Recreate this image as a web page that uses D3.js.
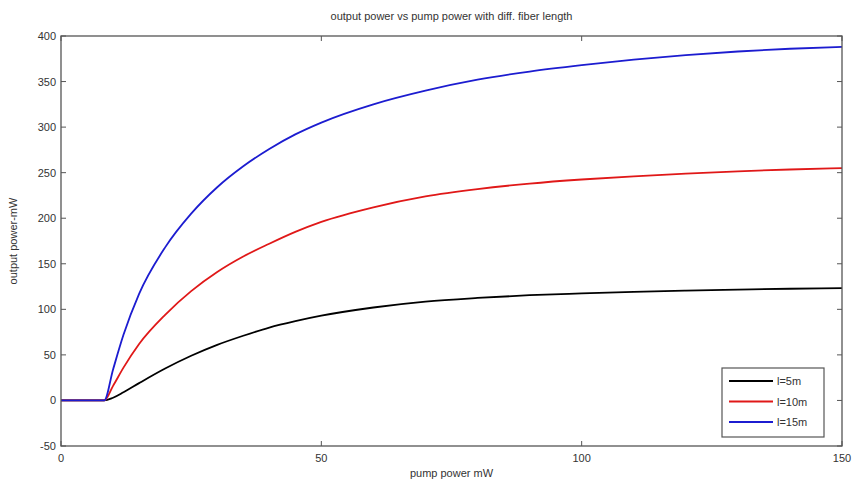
<!DOCTYPE html>
<html><head><meta charset="utf-8">
<script src="https://cdn.jsdelivr.net/npm/d3@7"></script>
<style>
body{margin:0;background:#fff;}
text{font-family:"Liberation Sans",Arial,sans-serif;fill:#333;}
</style></head>
<body><svg id="c" width="857" height="487"></svg>
<script>
const pump = [0, 8.3, 10, 12, 15, 20, 25, 30, 35, 40, 45, 50, 60, 70, 80, 90, 100, 110, 120, 130, 140, 150];
const out5m  = [0, 0, 3, 9, 19, 35, 49, 61, 71, 80, 87, 93, 102, 108.5, 112.5, 115.5, 117.5, 119.2, 120.6, 121.7, 122.6, 123.3];
const out10m = [0, 0, 16, 36, 62, 94, 120, 141, 158, 172, 185, 196, 212, 224, 232, 238, 242.5, 246, 249, 251.5, 253.5, 255];
const out15m = [0, 0, 34, 72, 117, 168, 205, 234, 257, 276, 292, 305, 325, 340, 352, 361, 368, 374, 379, 383, 386, 388];
const seriesNames = ["l=5m", "l=10m", "l=15m"];
const seriesColors = ["#000000", "#e01818", "#1c1cd0"];
const xTicks = [0, 50, 100, 150];
const yTicks = [-50, 0, 50, 100, 150, 200, 250, 300, 350, 400];
const titleText = "output power vs pump power with diff. fiber length";
const xLabel = "pump power mW";
const yLabel = "output power-mW";

const svg = d3.select("#c");
const L = 61, R = 842, T = 36, B = 446;
const x = d3.scaleLinear().domain([0, 150]).range([L, R]);
const y = d3.scaleLinear().domain([-50, 400]).range([B, T]);

const axColor = "#555";
const tl = 5;
const g = svg.append("g");
g.selectAll(".xtb").data(xTicks).join("line").attr("class","xtb")
  .attr("x1", d => x(d)).attr("x2", d => x(d)).attr("y1", B).attr("y2", B - tl)
  .attr("stroke", axColor);
g.selectAll(".xtt").data(xTicks).join("line").attr("class","xtt")
  .attr("x1", d => x(d)).attr("x2", d => x(d)).attr("y1", T).attr("y2", T + tl)
  .attr("stroke", axColor);
g.selectAll(".ytl").data(yTicks).join("line").attr("class","ytl")
  .attr("x1", L).attr("x2", L + tl).attr("y1", d => y(d)).attr("y2", d => y(d))
  .attr("stroke", axColor);
g.selectAll(".ytr").data(yTicks).join("line").attr("class","ytr")
  .attr("x1", R).attr("x2", R - tl).attr("y1", d => y(d)).attr("y2", d => y(d))
  .attr("stroke", axColor);

svg.selectAll(".xl").data(xTicks).join("text").attr("class","xl")
  .attr("x", d => x(d)).attr("y", B + 16).attr("text-anchor", "middle")
  .attr("font-size", 11).text(d => d);
svg.selectAll(".yl").data(yTicks).join("text").attr("class","yl")
  .attr("x", L - 5).attr("y", d => y(d) + 4).attr("text-anchor", "end")
  .attr("font-size", 11).text(d => d);

const sets = [out5m, out10m, out15m];
const line = d3.line().x((d, i) => x(pump[i])).y(d => y(d)).curve(d3.curveMonotoneX);
sets.forEach((s, k) => {
  svg.append("path").datum(s).attr("d", line).attr("fill", "none")
    .attr("stroke", seriesColors[k]).attr("stroke-width", 1.8);
});

svg.append("rect").attr("x", L).attr("y", T).attr("width", R - L).attr("height", B - T)
  .attr("fill", "none").attr("stroke", axColor).attr("stroke-width", 1.3);

svg.append("text").attr("x", (L + R) / 2).attr("y", 20).attr("text-anchor", "middle")
  .attr("font-size", 11).text(titleText);
svg.append("text").attr("x", (L + R) / 2).attr("y", 477).attr("text-anchor", "middle")
  .attr("font-size", 11).text(xLabel);
svg.append("text").attr("transform", `translate(17,${(T + B) / 2}) rotate(-90)`)
  .attr("text-anchor", "middle").attr("font-size", 11).text(yLabel);

const lg = svg.append("g");
lg.append("rect").attr("x", 722).attr("y", 368).attr("width", 102).attr("height", 69)
  .attr("fill", "#fff").attr("stroke", axColor).attr("stroke-width", 1.2);
seriesNames.forEach((n, k) => {
  const yy = 381 + k * 20.5;
  lg.append("line").attr("x1", 729).attr("x2", 773).attr("y1", yy).attr("y2", yy)
    .attr("stroke", seriesColors[k]).attr("stroke-width", 1.8);
  lg.append("text").attr("x", 777).attr("y", yy + 4).attr("font-size", 11).text(n);
});
</script></body></html>
